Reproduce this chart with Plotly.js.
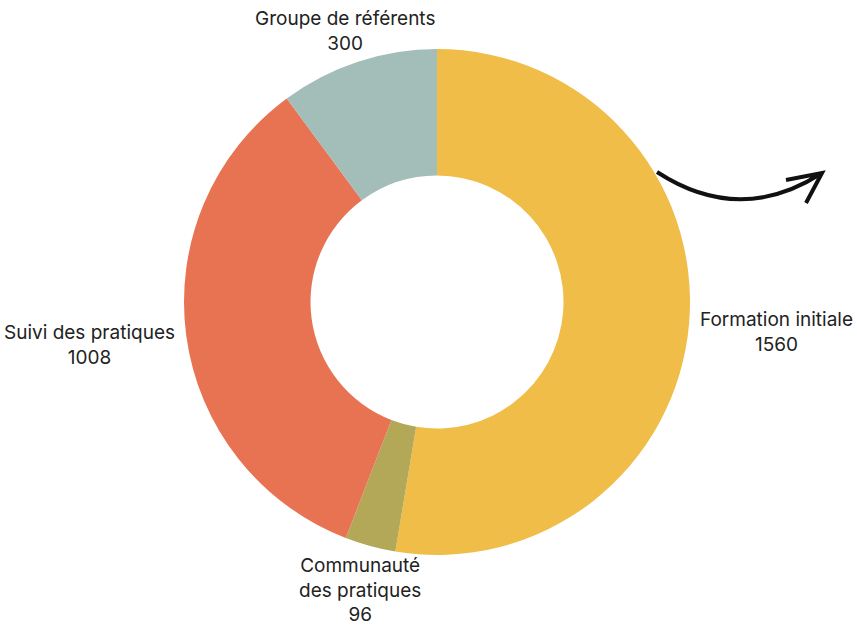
<!DOCTYPE html>
<html>
<head>
<meta charset="utf-8">
<script src="https://cdn.plot.ly/plotly-3.0.1.min.js"></script>
<style>html,body{margin:0;padding:0;background:#fff;}#chart{width:857px;height:630px;}</style>
</head>
<body>
<div id="chart"></div>
<script>
var categories = ["Formation initiale", "Communauté<br>des pratiques", "Suivi des pratiques", "Groupe de référents"];
var values = [1560, 96, 1008, 300];
var colors = ["#EFBD48", "#B2A857", "#E87352", "#A3BDB8"];

var W = 857, H = 630;
function px(x){ return x / W; }
function py(y){ return 1 - y / H; }

// pie geometry (pixels)
var CX = 437, CY = 302, R = 253;
var LABEL_R = R + 10;
var FONT = "Inter, 'DejaVu Sans', sans-serif";

var arrowPath = "M " + px(657) + "," + py(172) + " Q " + px(740) + "," + py(226) + " " + px(822) + "," + py(173) +
  " M " + px(786) + "," + py(180) + " L " + px(822) + "," + py(173) + " L " + px(806) + "," + py(203);

var trace = {
  type: "pie",
  labels: categories,
  values: values,
  marker: { colors: colors, line: { width: 0 } },
  hole: 0.5,
  sort: false,
  direction: "clockwise",
  rotation: 0,
  textinfo: "none",
  domain: { x: [px(CX - R), px(CX + R)], y: [py(CY + R), py(CY - R)] },
  showlegend: false,
  hoverinfo: "label+value"
};

// labels placed outside each slice, derived from the values
var total = values.reduce(function(a, b){ return a + b; }, 0);
var annotations = [];
var cum = 0;
for (var i = 0; i < values.length; i++) {
  var theta = 2 * Math.PI * (cum + values[i] / 2) / total;
  cum += values[i];
  var s = Math.sin(theta), c = Math.cos(theta);
  var xa = s > 0.5 ? "left" : (s < -0.5 ? "right" : "center");
  var ya = c > 0.5 ? "bottom" : (c < -0.5 ? "top" : "middle");
  annotations.push({
    xref: "paper", yref: "paper",
    x: px(CX + LABEL_R * s),
    y: py(CY - LABEL_R * c),
    xanchor: xa, yanchor: ya,
    xshift: xa === "center" ? s * 30 : 0,
    yshift: ya === "middle" ? -8 : (ya === "top" ? 3 : -4),
    showarrow: false,
    align: "center",
    borderpad: 0,
    text: categories[i] + "<br>" + values[i],
    font: { family: FONT, size: 19, color: "#222" }
  });
}

var layout = {
  width: W, height: H,
  margin: { l: 0, r: 0, t: 0, b: 0 },
  paper_bgcolor: "#fff",
  showlegend: false,
  font: { family: FONT, size: 19, color: "#222" },
  annotations: annotations,
  shapes: [{
    type: "path", xref: "paper", yref: "paper",
    path: arrowPath,
    line: { color: "#111", width: 4 }
  }]
};

Plotly.newPlot("chart", [trace], layout, { displayModeBar: false, staticPlot: true });
</script>
</body>
</html>
